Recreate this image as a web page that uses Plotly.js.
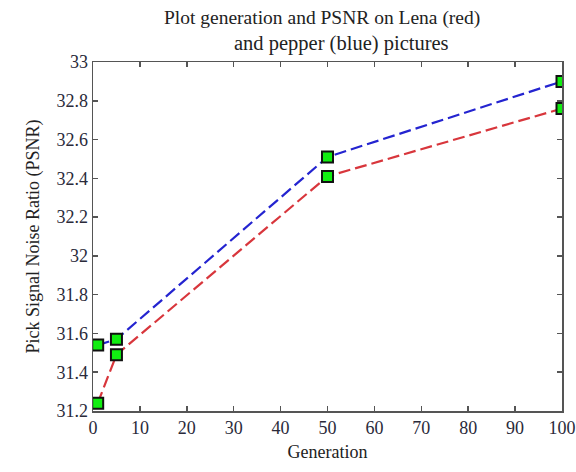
<!DOCTYPE html>
<html>
<head>
<meta charset="utf-8">
<script src="https://cdn.plot.ly/plotly-3.0.1.min.js"></script>
<style>html,body{margin:0;padding:0;background:#fff;}#chart{width:576px;height:472px;}</style>
</head>
<body>
<div id="chart"></div>
<script>
const generations = [1, 5, 50, 100];
const psnrLena = [31.24, 31.49, 32.41, 32.76];
const psnrPepper = [31.54, 31.57, 32.51, 32.90];
const xTicks = [0, 10, 20, 30, 40, 50, 60, 70, 80, 90, 100];
const yTicks = [31.2, 31.4, 31.6, 31.8, 32, 32.2, 32.4, 32.6, 32.8, 33];
const yTickText = ['31.2', '31.4', '31.6', '31.8', '32', '32.2', '32.4', '32.6', '32.8', '33'];
const titleLines = ['Plot generation and PSNR on Lena (red)', 'and pepper (blue) pictures'];

const marker = {symbol: 'square', size: 11, color: '#11ee11', line: {color: '#111', width: 2}};
const font = 'Liberation Serif, Times New Roman, serif';

const traces = [
  {x: generations, y: psnrPepper, mode: 'lines+markers', name: 'pepper',
   line: {color: '#2424d0', width: 2.2, dash: '12px,5px'}, marker: marker},
  {x: generations, y: psnrLena, mode: 'lines+markers', name: 'Lena',
   line: {color: '#d8363c', width: 2.2, dash: '12px,5px'}, marker: marker}
];

const axisCommon = {
  showgrid: false, zeroline: false, showline: true, linecolor: '#555', linewidth: 1.5,
  mirror: 'ticks', ticks: 'inside', ticklen: 5, tickcolor: '#555', tickwidth: 1.5,
  ticklabeloverflow: 'allow',
  tickfont: {family: font, size: 18, color: '#2a2a3a'}
};

const layout = {
  width: 576, height: 472,
  margin: {l: 93, r: 14, t: 62, b: 61},
  paper_bgcolor: '#fff', plot_bgcolor: '#fff',
  showlegend: false,
  annotations: [
    {text: titleLines[0], xref: 'paper', yref: 'paper', x: 0.488, y: 1.127, xanchor: 'center', yanchor: 'middle',
     showarrow: false, font: {family: font, size: 19.5, color: '#222'}},
    {text: titleLines[1], xref: 'paper', yref: 'paper', x: 0.529, y: 1.053, xanchor: 'center', yanchor: 'middle',
     showarrow: false, font: {family: font, size: 20.5, color: '#222'}}
  ],
  xaxis: Object.assign({}, axisCommon, {range: [0, 100], tickvals: xTicks,
    title: {text: 'Generation', font: {family: font, size: 18, color: '#222'}, standoff: 8}}),
  yaxis: Object.assign({}, axisCommon, {range: [31.2, 33], tickvals: yTicks, ticktext: yTickText,
    title: {text: 'Pick Signal Noise Ratio (PSNR)', font: {family: font, size: 18, color: '#222'}, standoff: 12}})
};

Plotly.newPlot('chart', traces, layout, {displayModeBar: false, staticPlot: true});
</script>
</body>
</html>
